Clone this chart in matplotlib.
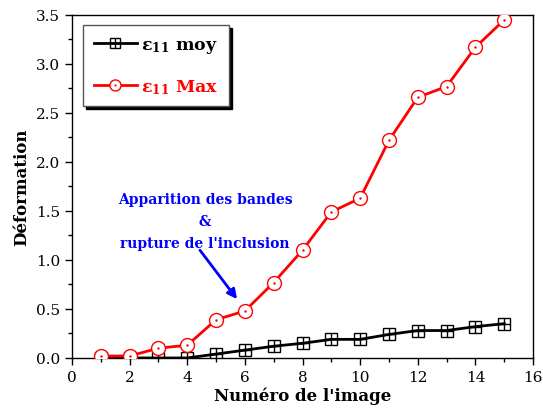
import matplotlib
matplotlib.use("Agg")
import matplotlib.pyplot as plt
from matplotlib.ticker import MultipleLocator
from matplotlib.lines import Line2D

# --- DATA ---
images = [1, 2, 3, 4, 5, 6, 7, 8, 9, 10, 11, 12, 13, 14, 15]
eps_moy = [0.0, 0.0, 0.0, 0.0, 0.04, 0.08, 0.12, 0.15, 0.19, 0.19, 0.24, 0.28, 0.28, 0.32, 0.35]
eps_max = [0.02, 0.02, 0.10, 0.13, 0.39, 0.48, 0.77, 1.10, 1.49, 1.63, 2.22, 2.66, 2.77, 3.17, 3.45]

plt.rcParams['font.family'] = ['DejaVu Serif']
plt.rcParams['mathtext.fontset'] = 'dejavuserif'

fig = plt.figure(figsize=(5.43, 4.14), dpi=100)
ax = fig.add_axes([0.1326, 0.1329, 0.849, 0.8285])

# black series: square with plus inside
ax.plot(images, eps_moy, color='black', lw=2, marker='s', ms=9,
        mfc='none', mec='black', mew=1.0, zorder=3)
ax.plot(images, eps_moy, ls='none', marker='+', ms=9, mec='black', mew=1.0, zorder=3)
# red series: circle with dot inside
ax.plot(images, eps_max, color='red', lw=2, marker='o', ms=10,
        mfc='white', mec='red', mew=1.0, zorder=4)
ax.plot(images, eps_max, ls='none', marker='.', ms=1.5, mec='red', mfc='red', zorder=5)

ax.set_xlim(0, 16)
ax.set_ylim(0, 3.5)
ax.xaxis.set_major_locator(MultipleLocator(2))
ax.xaxis.set_minor_locator(MultipleLocator(1))
ax.yaxis.set_major_locator(MultipleLocator(0.5))
ax.yaxis.set_minor_locator(MultipleLocator(0.25))
ax.tick_params(which='major', direction='out', length=5, width=1, labelsize=11)
ax.tick_params(which='minor', direction='out', length=3, width=1)
for s in ax.spines.values():
    s.set_linewidth(1.0)

ax.set_xlabel("Numéro de l'image", fontsize=12, fontweight='bold', labelpad=2)
ax.set_ylabel("Déformation", fontsize=12, fontweight='bold', labelpad=4)

# legend with proxy handles (smaller markers than the plot)
h1 = (Line2D([], [], color='black', lw=2, marker='s', ms=7, mfc='none', mec='black', mew=1.0),
      Line2D([], [], ls='none', marker='+', ms=7, mec='black', mew=1.0))
h2 = (Line2D([], [], color='red', lw=2, marker='o', ms=8, mfc='white', mec='red', mew=1.0),
      Line2D([], [], ls='none', marker='.', ms=1.2, mec='red', mfc='red'))
leg = ax.legend([h1, h2], [r'ε$_{\mathregular{11}}$ moy', r'ε$_{\mathregular{11}}$ Max'],
                loc='upper left', bbox_to_anchor=(0.013, 0.985), fancybox=False,
                shadow={'color': 'black', 'alpha': 1},
                prop={'weight': 'bold', 'size': 12.5}, handlelength=2.5, labelspacing=1.3,
                borderpad=0.6, handletextpad=0.25, borderaxespad=0.3, framealpha=1)
leg.get_frame().set_edgecolor('#555555')
leg.get_frame().set_linewidth(1.0)
leg.get_texts()[1].set_color('red')

ax.text(4.62, 1.13, "Apparition des bandes\n&\nrupture de l'inclusion",
        ha='center', va='baseline', color='blue', fontsize=10, fontweight='bold',
        linespacing=1.75)
ax.annotate("", xy=(5.73, 0.6), xytext=(4.44, 1.1),
            arrowprops=dict(arrowstyle='-|>', color='blue', lw=2, mutation_scale=14,
                            shrinkA=0, shrinkB=0))

fig.savefig('out.png', dpi=100)
